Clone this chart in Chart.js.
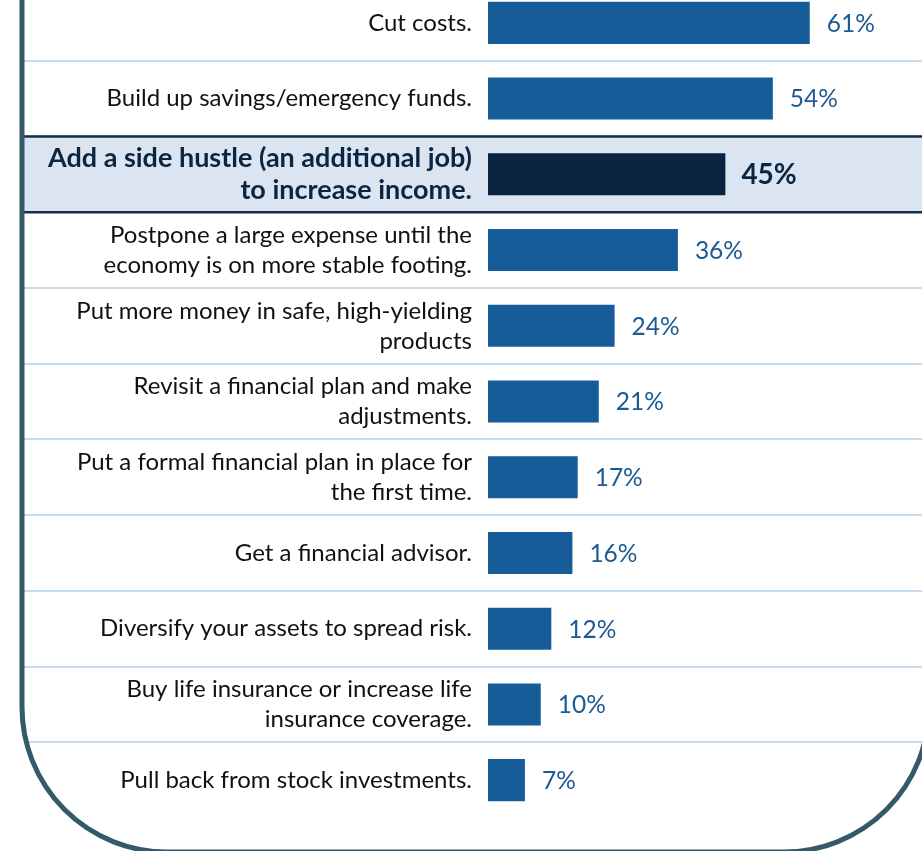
<!DOCTYPE html>
<html>
<head>
<meta charset="utf-8">
<script src="https://cdn.jsdelivr.net/npm/chart.js@4/dist/chart.umd.min.js"></script>
<style>
  html, body { margin: 0; padding: 0; background: #ffffff; overflow: hidden; }
  #wrap { position: relative; width: 922px; height: 851px; overflow: hidden; }
  #box { position: absolute; left: 0; top: -15px; width: 922px; height: 866px; }
</style>
</head>
<body>
<div id="wrap"><div id="box"><canvas id="chart" width="922" height="866"></canvas></div></div>
<script>
// Survey answers, one row per action
const actions = [
  ['Cut costs.'],
  ['Build up savings/emergency funds.'],
  ['Add a side hustle (an additional job)', 'to increase income.'],
  ['Postpone a large expense until the', 'economy is on more stable footing.'],
  ['Put more money in safe, high-yielding', 'products'],
  ['Revisit a financial plan and make', 'adjustments.'],
  ['Put a formal financial plan in place for', 'the first time.'],
  ['Get a financial advisor.'],
  ['Diversify your assets to spread risk.'],
  ['Buy life insurance or increase life', 'insurance coverage.'],
  ['Pull back from stock investments.']
];
// Share of respondents (%)
const shares = [61, 54, 45, 36, 24, 21, 17, 16, 12, 10, 7];
// Row that gets the emphasis band
const highlightIndex = 2;

const BAR = '#165c98';
const BAR_HI = '#0b2540';
const TEXT = '#111111';
const TEXT_HI = '#0c2641';
const VALUE = '#1e5a92';
const FONT = 'Lato, "Open Sans", sans-serif';

// Row bands, separators and the rounded frame
const rowDecor = {
  id: 'rowDecor',
  beforeDraw(chart) {
    const { ctx, scales: { y } } = chart;
    const n = actions.length;
    const band = (y.bottom - y.top) / n;
    const x0 = 24, x1 = chart.width;
    ctx.save();
    // separators
    ctx.strokeStyle = '#c8dcf1';
    ctx.lineWidth = 2;
    for (let k = 1; k < n; k++) {
      const yy = Math.round(y.top + band * k);
      ctx.beginPath(); ctx.moveTo(x0, yy); ctx.lineTo(x1, yy); ctx.stroke();
    }
    // emphasis band
    const top = y.top + band * highlightIndex;
    const bot = top + band;
    ctx.fillStyle = '#dbe5f1';
    ctx.fillRect(x0, top, x1 - x0, bot - top);
    ctx.strokeStyle = '#16304a';
    ctx.lineWidth = 2.5;
    ctx.beginPath(); ctx.moveTo(x0, top); ctx.lineTo(x1, top); ctx.stroke();
    ctx.beginPath(); ctx.moveTo(x0, bot); ctx.lineTo(x1, bot); ctx.stroke();
    ctx.restore();
  },
  afterDraw(chart) {
    const { ctx } = chart;
    // rounded outline, open at the top
    const left = 22, right = 929, bottom = 867, r = 145;
    ctx.save();
    ctx.strokeStyle = '#345a67';
    ctx.lineWidth = 5;
    ctx.beginPath();
    ctx.moveTo(left, 0);
    ctx.lineTo(left, bottom - r);
    ctx.arcTo(left, bottom, left + r, bottom, r);
    ctx.lineTo(right - r, bottom);
    ctx.arcTo(right, bottom, right, bottom - r, r);
    ctx.lineTo(right, 0);
    ctx.stroke();
    ctx.restore();
  }
};

// Percent labels after each bar
const valueLabels = {
  id: 'valueLabels',
  afterDatasetsDraw(chart) {
    const { ctx } = chart;
    const meta = chart.getDatasetMeta(0);
    ctx.save();
    ctx.textBaseline = 'middle';
    ctx.textAlign = 'left';
    meta.data.forEach((bar, i) => {
      const hi = i === highlightIndex;
      ctx.font = (hi ? 'bold 28px ' : '24.5px ') + FONT;
      ctx.fillStyle = hi ? TEXT_HI : VALUE;
      ctx.fillText(shares[i] + '%', bar.x + (hi ? 16 : 17), bar.y + 1);
    });
    ctx.restore();
  }
};

new Chart(document.getElementById('chart'), {
  type: 'bar',
  data: {
    labels: actions,
    datasets: [{
      data: shares,
      backgroundColor: shares.map((_, i) => i === highlightIndex ? BAR_HI : BAR),
      borderWidth: 0,
      barPercentage: 0.555,
      categoryPercentage: 1
    }]
  },
  options: {
    indexAxis: 'y',
    responsive: false,
    animation: false,
    events: [],
    layout: { padding: { left: 0, right: 12, top: 0, bottom: 33 } },
    plugins: { legend: { display: false }, tooltip: { enabled: false } },
    scales: {
      x: {
        min: 0, max: 80,
        display: false,
        grid: { display: false }
      },
      y: {
        border: { display: false },
        grid: { display: false, drawTicks: false },
        afterFit(scale) {
          scale.width = 488;
          scale.paddingTop = 0;
          scale.paddingBottom = 0;
        },
        ticks: {
          padding: 16,
          autoSkip: false,
          color: ctx => ctx.index === highlightIndex ? TEXT_HI : TEXT,
          font: ctx => ctx.index === highlightIndex
            ? { family: FONT, size: 27, weight: 'bold', lineHeight: 1.19 }
            : { family: FONT, size: 24, weight: 'normal', lineHeight: 1.25 }
        }
      }
    }
  },
  plugins: [rowDecor, valueLabels]
});
</script>
</body>
</html>
